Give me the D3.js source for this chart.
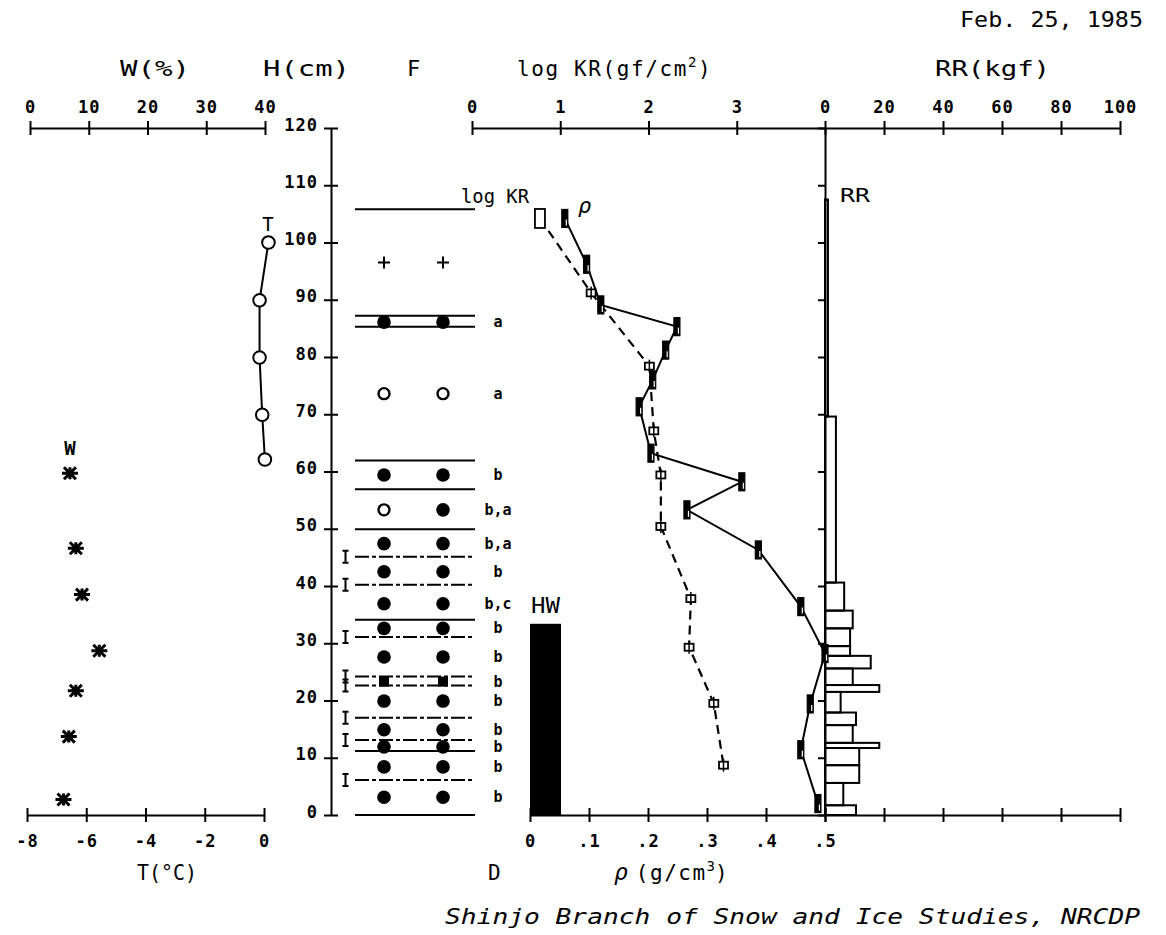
<!DOCTYPE html>
<html><head><meta charset="utf-8">
<script src="https://cdn.jsdelivr.net/npm/d3@7"></script>
<style>
body{margin:0;background:#fff;}
svg{display:block;}
text{font-family:"DejaVu Sans Mono",monospace;fill:#000;}
</style></head><body>
<svg id="c" width="1166" height="935"></svg>
<script>
// ---------------- data ----------------
const hTicks = [0,10,20,30,40,50,60,70,80,90,100,110,120];
const wTicks = [0,10,20,30,40];
const tTicks = [-8,-6,-4,-2,0];
const krTicks = [0,1,2,3];
const rrTicks = [0,20,40,60,80,100];
const rhoTicks = [0,0.1,0.2,0.3,0.4,0.5];
const rhoTickLabels = ["0",".1",".2",".3",".4",".5"];

// snow temperature T (°C) vs height H (cm)
const tempH = [100, 89.9, 79.9, 69.9, 62.1];
const tempC = [0.15, -0.15, -0.15, -0.06, 0.03];
// water content W (%)
const wetH = [59.7, 46.6, 38.5, 28.7, 21.7, 13.7, 2.7];
const wetW = [6.8, 7.8, 8.85, 11.8, 7.8, 6.6, 5.7];

// stratigraphy
const layerH = [105.8, 87.2, 85.3, 61.9, 56.9, 49.9, 45.1, 40.2, 34.1, 31.1, 24.2, 22.6, 17.0, 13.1, 11.2, 6.1, 0];
const layerKind = ["solid","solid","solid","solid","solid","solid","dashed","dashed","solid","dashed","dashed","dashed","dashed","dashed","solid","dashed","solid"];
const grainH = [96.5, 86.1, 73.6, 59.4, 53.3, 47.4, 42.5, 36.9, 32.6, 27.6, 23.3, 19.9, 14.9, 11.9, 8.4, 3.1];
const grainLeft  = ["plus","fill","open","fill","open","fill","fill","fill","fill","fill","small","fill","fill","fill","fill","fill"];
const grainRight = ["plus","fill","open","fill","fill","fill","fill","fill","fill","fill","small","fill","fill","fill","fill","fill"];
const grainNote  = ["","a","a","b","b,a","b,a","b","b,c","b","b","b","b","b","b","b","b"];

// density rho (g/cm3)
const rhoH = [104.2, 96.2, 89.1, 85.3, 81.2, 76.0, 71.3, 63.2, 58.2, 53.3, 46.3, 36.4, 28.2, 19.4, 11.4, 2.0];
const rhoVal = [0.059, 0.096, 0.120, 0.249, 0.230, 0.208, 0.185, 0.205, 0.359, 0.266, 0.387, 0.459, 0.500, 0.475, 0.459, 0.488];
// log KR (gf/cm2)
const krH = [104.2, 91.2, 78.4, 67.1, 59.4, 50.4, 37.8, 29.3, 19.5, 8.7];
const krVal = [0.77, 1.35, 2.01, 2.06, 2.14, 2.14, 2.48, 2.46, 2.74, 2.85];
// ram resistance RR (kgf), layer boundaries in cm
const rrBounds = [107.5, 69.6, 40.6, 35.7, 32.6, 29.5, 27.8, 25.6, 22.7, 21.5, 17.9, 15.7, 12.6, 11.7, 8.7, 5.6, 1.7, 0];
const rrVal = [1, 3.7, 6.5, 9.4, 8.5, 8.5, 15.5, 9.4, 18.4, 5.3, 10.5, 9.4, 18.4, 11.6, 11.6, 6.2, 10.5];
// wet (HW) zone top height
const hwTop = 33.4;

// ---------------- scales ----------------
const svg = d3.select("#c");
const yH = d3.scaleLinear().domain([0,120]).range([815,128]);
const xW = d3.scaleLinear().domain([0,40]).range([30,265]);
const xT = d3.scaleLinear().domain([-8,0]).range([27,264]);
const xKR = d3.scaleLinear().domain([0,4]).range([472,825]);
const xRho = d3.scaleLinear().domain([0,0.5]).range([530,825]);
const xRR = d3.scaleLinear().domain([0,100]).range([825,1120]);

function styleAxis(g){
  g.attr("font-family",'"DejaVu Sans Mono",monospace').attr("font-size",17).attr("font-weight","bold");
  g.select(".domain").attr("stroke","#000").attr("stroke-width",2);
  g.selectAll(".tick line").attr("stroke","#000").attr("stroke-width",2);
  g.selectAll(".tick text").attr("fill","#000").attr("letter-spacing",1);
}
function hAxis(axis, y, labelY){
  const g = svg.append("g").attr("transform",`translate(0,${y})`).call(axis);
  styleAxis(g);
  g.selectAll(".tick line").attr("y1",-7).attr("y2",7);
  g.selectAll(".tick text").attr("y",labelY).attr("dy",0);
  return g;
}
// top axes
hAxis(d3.axisTop(xW).tickValues(wTicks).tickSizeOuter(0).tickFormat(d=>String(d)),128,-15);
hAxis(d3.axisTop(xKR).tickValues(krTicks).tickSizeOuter(0).tickFormat(d=>String(d)),128,-15);
hAxis(d3.axisTop(xRR).tickValues(rrTicks).tickSizeOuter(0).tickFormat(d=>String(d)),128,-15);
// bottom axes
hAxis(d3.axisBottom(xT).tickValues(tTicks).tickSizeOuter(0).tickFormat(d=>String(d)),815,32);
hAxis(d3.axisBottom(xRho).tickValues(rhoTicks).tickSizeOuter(0).tickFormat((d,i)=>rhoTickLabels[i]),815,32);
hAxis(d3.axisBottom(xRR).tickValues(rrTicks).tickSizeOuter(0).tickFormat(""),815,32);

// H axis
const gH = svg.append("g").attr("transform","translate(331,0)")
  .call(d3.axisLeft(yH).tickValues(hTicks).tickSizeOuter(0).tickFormat(d=>String(d)));
styleAxis(gH);
gH.selectAll(".tick line").attr("x1",-7).attr("x2",7);
gH.selectAll(".tick text").attr("x",-13).attr("dy",0).attr("y",2);

// RR vertical axis
const gR = svg.append("g").attr("transform","translate(825,0)")
  .call(d3.axisLeft(yH).tickValues(hTicks).tickSize(7).tickSizeOuter(0).tickFormat(""));
styleAxis(gR);

// ---------------- HW bar ----------------
svg.append("rect").attr("x",xRho(0)).attr("y",yH(hwTop))
  .attr("width",31).attr("height",yH(0)-yH(hwTop)).attr("fill","#000");

// ---------------- RR bars ----------------
svg.append("g").selectAll("rect").data(rrVal).join("rect")
  .attr("x",xRR(0)).attr("y",(d,i)=>yH(rrBounds[i]))
  .attr("width",d=>xRR(d)-xRR(0))
  .attr("height",(d,i)=>yH(rrBounds[i+1])-yH(rrBounds[i]))
  .attr("fill","none").attr("stroke","#000").attr("stroke-width",2);

// ---------------- stratigraphy ----------------
const gL = svg.append("g");
gL.selectAll("line").data(layerH).join("line")
  .attr("x1",355).attr("x2",475).attr("y1",d=>yH(d)).attr("y2",d=>yH(d))
  .attr("stroke","#000").attr("stroke-width",2)
  .attr("stroke-dasharray",(d,i)=>layerKind[i]==="dashed"?"14,3,4,3":null);
// ice marks on dashed boundaries
const iceH = layerH.filter((d,i)=>layerKind[i]==="dashed");
gL.selectAll("path.ice").data(iceH).join("path").attr("class","ice")
  .attr("d",d=>{const y=yH(d);return `M342.5,${y-6}H348.5M345.5,${y-6}V${y+6}M342.5,${y+6}H348.5`;})
  .attr("stroke","#000").attr("stroke-width",2).attr("fill","none");

function grain(g, kind, x, y){
  if(kind==="plus"){
    g.append("path").attr("d",`M${x-6},${y}H${x+6}M${x},${y-6}V${y+6}`).attr("stroke","#000").attr("stroke-width",2);
  } else if(kind==="fill"){
    g.append("circle").attr("cx",x).attr("cy",y).attr("r",6.8).attr("fill","#000");
  } else if(kind==="open"){
    g.append("circle").attr("cx",x).attr("cy",y).attr("r",5.5).attr("fill","#fff").attr("stroke","#000").attr("stroke-width",2.4);
  } else if(kind==="small"){
    g.append("rect").attr("x",x-5).attr("y",y-5).attr("width",10).attr("height",10).attr("fill","#000");
  }
}
grainH.forEach((h,i)=>{
  grain(gL, grainLeft[i], 384, yH(h));
  grain(gL, grainRight[i], 443, yH(h));
});
gL.selectAll("text.note").data(grainNote).join("text").attr("class","note")
  .attr("x",498).attr("y",(d,i)=>yH(grainH[i])+5).attr("text-anchor","middle")
  .attr("font-size",15).attr("font-weight","bold").text(d=>d);

// ---------------- T and W profiles ----------------
const tPts = tempH.map((h,i)=>[xT(tempC[i]), yH(h)]);
svg.append("path").attr("d",d3.line()(tPts)).attr("fill","none").attr("stroke","#000").attr("stroke-width",2);
svg.append("g").selectAll("circle").data(tPts).join("circle")
  .attr("cx",d=>d[0]).attr("cy",d=>d[1]).attr("r",6.3)
  .attr("fill","#fff").attr("stroke","#000").attr("stroke-width",2);
svg.append("g").selectAll("path").data(wetW).join("path")
  .attr("d",(d,i)=>{const x=xW(d),y=yH(wetH[i]),r=8,q=6;
    return `M${x-r},${y}H${x+r}M${x-q},${y-q}L${x+q},${y+q}M${x-q},${y+q}L${x+q},${y-q}M${x},${y-6}V${y+6}`;})
  .attr("stroke","#000").attr("stroke-width",3).attr("fill","none");

// ---------------- log KR (dashed) & rho (solid) ----------------
const krPts = krH.map((h,i)=>[xKR(krVal[i]), yH(h)]);
svg.append("path").attr("d",d3.line()(krPts)).attr("fill","none").attr("stroke","#000")
  .attr("stroke-width",2.2).attr("stroke-dasharray","9,6");
const rhoPts = rhoH.map((h,i)=>[xRho(rhoVal[i]), yH(h)]);
svg.append("path").attr("d",d3.line()(rhoPts)).attr("fill","none").attr("stroke","#000").attr("stroke-width",2);

svg.append("g").selectAll("g").data(krPts).join("g").each(function(d,i){
  const g=d3.select(this);
  const w=i===0?10:9, h=i===0?19:7;
  g.append("rect").attr("x",d[0]-w/2).attr("y",d[1]-h/2).attr("width",w).attr("height",h)
    .attr("fill","#fff").attr("stroke","#000").attr("stroke-width",1.8);
  if(i>0) g.append("line").attr("x1",d[0]).attr("x2",d[0]).attr("y1",d[1]-h/2-3).attr("y2",d[1]+h/2+3)
    .attr("stroke","#000").attr("stroke-width",1.5);
});
svg.append("g").selectAll("g").data(rhoPts).join("g").each(function(d){
  const g=d3.select(this);
  g.append("rect").attr("x",d[0]-3).attr("y",d[1]-9).attr("width",6).attr("height",18)
    .attr("fill","#000").attr("stroke","#000").attr("stroke-width",1.2);
  g.append("line").attr("x1",d[0]+1.5).attr("x2",d[0]+1.5).attr("y1",d[1]+1).attr("y2",d[1]+7)
    .attr("stroke","#fff").attr("stroke-width",1.2);
});

// ---------------- text ----------------
function txt(s,x,y,opt={}){
  const t=svg.append("text").attr("x",x).attr("y",y).text(s)
    .attr("font-size",opt.size||20);
  if(opt.len) t.attr("textLength",opt.len).attr("lengthAdjust",opt.adj||"spacingAndGlyphs");
  if(opt.anchor) t.attr("text-anchor",opt.anchor);
  if(opt.italic) t.attr("font-style","italic");
  if(opt.bold) t.attr("font-weight","bold");
  return t;
}
txt("Feb. 25, 1985",960,27,{len:183,size:21});
txt("W(%)",120,76,{len:70,size:21});
txt("H(cm)",263,76,{len:87,size:21});
txt("F",407,76,{size:22});
// log KR(gf/cm2)
(function(){
  const t=svg.append("text").attr("x",517).attr("y",76).attr("font-size",21).attr("letter-spacing",1.6);
  t.append("tspan").text("log KR(gf/cm");
  t.append("tspan").attr("dy",-9).attr("font-size",14).text("2");
  t.append("tspan").attr("dy",9).text(")");
})();
txt("RR(kgf)",935,76,{len:115,size:21});
txt("log KR",461,203,{len:68,size:20});
txt("ρ",578,213,{italic:true,size:22});
txt("RR",840,202,{len:30,size:20});
txt("T",268,231,{anchor:"middle",size:19});
txt("W",70,455,{anchor:"middle",size:19,bold:true});
txt("HW",531,613,{len:29,size:21});
txt("T(°C)",137,880,{len:60,size:21});
txt("D",488,880,{size:21});
(function(){
  const t=svg.append("text").attr("x",614).attr("y",880).attr("font-size",21);
  t.append("tspan").attr("font-style","italic").attr("font-size",23).text("ρ");
  t.append("tspan").attr("dx",8).attr("letter-spacing",1.5).text("(g/cm");
  t.append("tspan").attr("dy",-9).attr("font-size",14).text("3");
  t.append("tspan").attr("dy",9).text(")");
})();
txt("Shinjo Branch of Snow and Ice Studies, NRCDP",445,924,{len:695,italic:true,size:22});
</script>
</body></html>
